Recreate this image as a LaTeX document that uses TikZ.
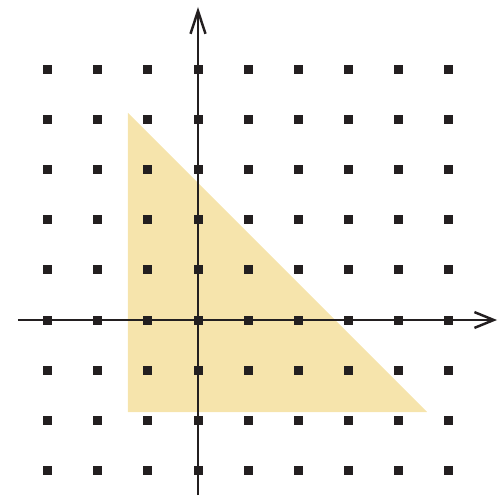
\documentclass[tikz,border=0pt]{standalone}
\usepackage{tikz}
\usepackage{xcolor}
\usetikzlibrary{arrows.meta}

\definecolor{trifill}{RGB}{246,228,172}
\definecolor{inkdark}{RGB}{35,31,32}

\begin{document}
\begin{tikzpicture}
    \tikzset{
      latticept/.style = {rectangle, fill=inkdark, minimum size=0.18cm, inner sep=0pt},
      axis/.style = {draw=inkdark, line width=1.4pt, -{Straight Barb[length=11pt,width=9pt]}}
    }
    \useasboundingbox (-3.96,-3.5) rectangle (6.0,6.4);

    % shaded triangle
    \fill[trifill] (-1.4,4.14) -- (-1.4,-1.84) -- (4.58,-1.84) -- cycle;

    % axes
    \coordinate (xstart) at (-3.6,0);
    \coordinate (xend) at (5.98,0);
    \coordinate (ystart) at (0,-3.5);
    \coordinate (yend) at (0,6.26);
    \draw [axis] (xstart) -- (xend);
    \draw [axis, -{Straight Barb[length=13pt,width=8.5pt]}] (ystart) -- (yend);

    % lattice points
    \foreach \i in {-3,...,5}
      \foreach \j in {-3,...,5}
        \node (pt\i\j) [latticept] at (\i,\j) {};
\end{tikzpicture}
\end{document}
